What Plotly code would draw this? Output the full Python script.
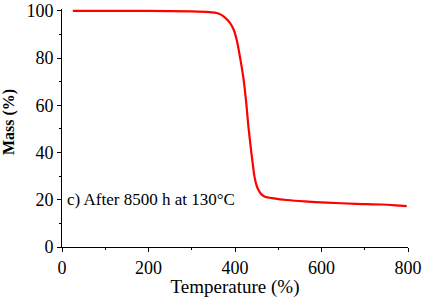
import plotly.graph_objects as go

temperature = [25, 100, 200, 300, 340, 360, 375, 388, 397, 404, 412, 420, 426, 431, 438, 445, 450, 454, 460, 469, 490, 520, 560, 612, 680, 740, 781, 797]
mass = [100, 100, 100, 99.8, 99.5, 99, 97.5, 95, 92, 87.7, 80, 70.8, 61, 51, 39.7, 29.8, 26, 24.2, 22.5, 21.3, 20.6, 19.9, 19.3, 18.8, 18.3, 18.0, 17.5, 17.3]

x_ticks = [0, 200, 400, 600, 800]
y_ticks = [0, 20, 40, 60, 80, 100]
annotation_text = "c) After 8500 h at 130°C"
x_title = "Temperature (%)"
y_title = "<b>Mass (%)</b>"

font_family = "Liberation Serif"

fig = go.Figure()
fig.add_trace(go.Scatter(x=temperature, y=mass, mode="lines",
                         line=dict(color="#ff0000", width=2.2, shape="spline", smoothing=0.6),
                         showlegend=False))

fig.add_annotation(x=0.01, y=20, xref="x domain", yref="y", text=annotation_text,
                   showarrow=False, xanchor="left", yanchor="middle",
                   font=dict(family=font_family, size=17, color="black"))

fig.add_annotation(x=-0.153, y=0.525, xref="paper", yref="paper", text=y_title,
                   showarrow=False, xanchor="center", yanchor="middle", textangle=-90,
                   font=dict(family=font_family, size=16, color="black"))

axis_common = dict(showgrid=False, zeroline=False, showline=True, linecolor="black", linewidth=1,
                   ticks="outside", ticklen=4, tickcolor="black", tickwidth=1,
                   tickfont=dict(family=font_family, size=18, color="black"),
                   mirror=False, automargin=False)

fig.update_xaxes(range=[0, 800], tickvals=x_ticks,
                 minor=dict(ticks="outside", ticklen=2, tickcolor="black", dtick=100, tick0=0),
                 title=dict(text=x_title, font=dict(family=font_family, size=19, color="black"), standoff=5),
                 **axis_common)
fig.update_yaxes(range=[0, 100.8], tickvals=y_ticks,
                 minor=dict(ticks="outside", ticklen=2, tickcolor="black", dtick=10, tick0=0),
                 **axis_common)

fig.update_layout(width=425, height=298, margin=dict(l=62, r=17, t=9, b=51, autoexpand=False),
                  paper_bgcolor="white", plot_bgcolor="white")

fig.write_html("out.html", config={"displayModeBar": False},
               post_script="document.body.style.margin='0';")
